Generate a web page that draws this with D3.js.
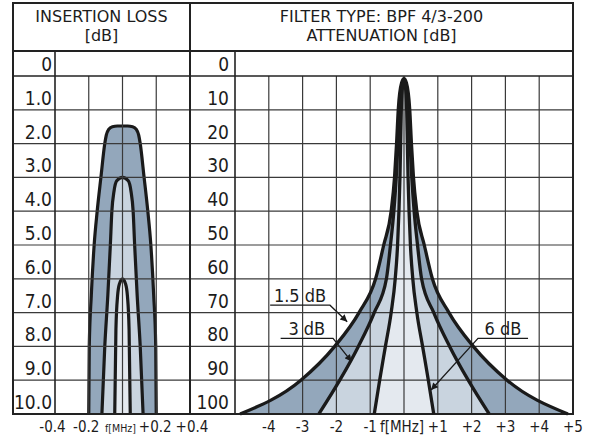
<!DOCTYPE html>
<html>
<head>
<meta charset="utf-8">
<title></title>
<script src="https://d3js.org/d3.v7.min.js"></script>
<style>
  body { margin: 0; background: #fff; }
  svg text { font-family: 'DejaVu Sans Condensed', 'DejaVu Sans', sans-serif; fill: #1c1c1c; }
  svg text.head { font-family: 'DejaVu Sans', sans-serif; }
</style>
</head>
<body>
<script>
// ---- insertion loss panel ----
const lossTicks = [0, 1, 2, 3, 4, 5, 6, 7, 8, 9, 10];
const lossLabels = ["0", "1.0", "2.0", "3.0", "4.0", "5.0", "6.0", "7.0", "8.0", "9.0", "10.0"];
const lossFreqTicks = [-0.4, -0.2, 0, 0.2, 0.4];
const lossFreqLabels = ["-0.4", "-0.2", "f[MHz]", "+0.2", "+0.4"];
// [MHz, dB]
const loss15 = [[-0.2, 10], [-0.197, 8], [-0.185, 6.5], [-0.168, 5], [-0.15, 4], [-0.128, 3], [-0.105, 2],
  [-0.096, 1.75], [-0.082, 1.58], [-0.06, 1.5], [-0.03, 1.48], [0, 1.48], [0.03, 1.48], [0.06, 1.5], [0.082, 1.58],
  [0.096, 1.75], [0.105, 2], [0.128, 3], [0.15, 4], [0.168, 5], [0.185, 6.5], [0.197, 8], [0.2, 10]];
const loss3 = [[-0.122, 10], [-0.105, 8], [-0.087, 6.5], [-0.072, 5], [-0.063, 4], [-0.05, 3.4], [-0.034, 3.1],
  [0, 3.0], [0.034, 3.1], [0.05, 3.4], [0.063, 4], [0.072, 5], [0.087, 6.5], [0.105, 8], [0.122, 10]];
const loss6 = [[-0.046, 10], [-0.039, 7.5], [-0.029, 6.5], [-0.018, 6.15], [0, 6.0],
  [0.018, 6.15], [0.029, 6.5], [0.039, 7.5], [0.046, 10]];

// ---- attenuation panel ----
const attTicks = [0, 10, 20, 30, 40, 50, 60, 70, 80, 90, 100];
const attLabels = ["0", "10", "20", "30", "40", "50", "60", "70", "80", "90", "100"];
const attFreqTicks = [-4, -3, -2, -1, 0, 1, 2, 3, 4, 5];
const attFreqLabels = ["-4", "-3", "-2", "-1", "f[MHz]", "+1", "+2", "+3", "+4", "+5"];
const att15 = [[-4.85, 100], [-3.05, 90], [-2.05, 80], [-1.33, 70], [-0.84, 60], [-0.6, 50], [-0.38, 40],
  [-0.28, 30], [-0.22, 20], [-0.17, 10], [-0.07, 2], [0, 0.8], [0.07, 2], [0.17, 10], [0.22, 20], [0.28, 30],
  [0.38, 40], [0.6, 50], [0.84, 60], [1.33, 70], [2.05, 80], [3.05, 90], [4.85, 100]];
const att3 = [[-2.52, 100], [-1.9, 90], [-1.35, 80], [-0.88, 70], [-0.52, 60], [-0.4, 50], [-0.3, 40],
  [-0.23, 30], [-0.18, 20], [-0.13, 10], [-0.05, 2.5], [0, 1], [0.05, 2.5], [0.13, 10], [0.18, 20], [0.23, 30],
  [0.3, 40], [0.4, 50], [0.52, 60], [0.88, 70], [1.35, 80], [1.9, 90], [2.52, 100]];
const att6 = [[-0.88, 100], [-0.72, 90], [-0.55, 80], [-0.38, 70], [-0.26, 60], [-0.19, 50], [-0.15, 40],
  [-0.12, 30], [-0.1, 20], [-0.08, 10], [-0.04, 3], [0, 1.5], [0.04, 3], [0.08, 10], [0.1, 20], [0.12, 30],
  [0.15, 40], [0.19, 50], [0.26, 60], [0.38, 70], [0.55, 80], [0.72, 90], [0.88, 100]];

const fills = ["#93a7bb", "#c9d4df", "#e4e9ef"];

const W = 600, H = 443;
const fx0 = 13, fx1 = 573, fy0 = 3, yHead = 51, yZero = 76, yBot = 414;
const lCol = 55, mid = 190, rCol = 235;

const svg = d3.select("body").append("svg")
  .attr("width", W).attr("height", H);

const yL = d3.scaleLinear().domain([0, 10]).range([yZero, yBot]);
const xL = d3.scaleLinear().domain([-0.4, 0.4]).range([lCol, mid]);
const yR = d3.scaleLinear().domain([0, 100]).range([yZero, yBot]);
const xR = d3.scaleLinear().domain([-5, 5]).range([rCol, fx1]);

function drawPanel(g, x, y, curves, bottom) {
  const area = d3.area().x(d => x(d[0])).y0(y(bottom)).y1(d => y(d[1])).curve(d3.curveMonotoneX);
  const line = d3.line().x(d => x(d[0])).y(d => y(d[1])).curve(d3.curveMonotoneX);
  g.selectAll("path.fill").data(curves).enter().append("path")
    .attr("class", "fill")
    .attr("d", area)
    .attr("fill", (d, i) => fills[i]);
  return line;
}

// fills first
const gL = svg.append("g");
const lineL = drawPanel(gL, xL, yL, [loss15, loss3, loss6], 10);
const gR = svg.append("g");
const lineR = drawPanel(gR, xR, yR, [att15, att3, att6], 100);

// grid
const grid = svg.append("g").attr("stroke", "#3a3a3a").attr("stroke-width", 1.2);
grid.selectAll("line.hl").data(lossTicks.slice(1, 10)).enter().append("line")
  .attr("x1", fx0).attr("x2", mid).attr("y1", d => yL(d)).attr("y2", d => yL(d));
grid.selectAll("line.hr").data(attTicks.slice(1, 10)).enter().append("line")
  .attr("x1", mid).attr("x2", fx1).attr("y1", d => yR(d)).attr("y2", d => yR(d));
grid.selectAll("line.vl").data(lossFreqTicks.slice(1, 4)).enter().append("line")
  .attr("x1", d => xL(d)).attr("x2", d => xL(d)).attr("y1", yZero).attr("y2", yBot);
grid.selectAll("line.vr").data(attFreqTicks.slice(0, 9)).enter().append("line")
  .attr("x1", d => xR(d)).attr("x2", d => xR(d)).attr("y1", yZero).attr("y2", yBot);

// frame
const frame = svg.append("g").attr("stroke", "#222").attr("stroke-width", 2).attr("fill", "none");
frame.append("rect").attr("x", fx0).attr("y", fy0).attr("width", fx1 - fx0).attr("height", yBot - fy0);
frame.append("line").attr("x1", fx0).attr("x2", fx1).attr("y1", yHead).attr("y2", yHead);
frame.append("line").attr("x1", fx0).attr("x2", fx1).attr("y1", yZero).attr("y2", yZero).attr("stroke-width", 1.4);
frame.append("line").attr("x1", mid).attr("x2", mid).attr("y1", fy0).attr("y2", yBot);
frame.append("line").attr("x1", lCol).attr("x2", lCol).attr("y1", yHead).attr("y2", yBot).attr("stroke-width", 1.6);
frame.append("line").attr("x1", rCol).attr("x2", rCol).attr("y1", yHead).attr("y2", yBot).attr("stroke-width", 1.6);

// curves
gL.selectAll("path.curve").data([loss15, loss3, loss6]).enter().append("path")
  .attr("class", "curve").attr("d", lineL)
  .attr("fill", "none").attr("stroke", "#1a1a1a").attr("stroke-width", 3.2).attr("stroke-linejoin", "round");
svg.append("g").selectAll("path").data([att15, att3, att6]).enter().append("path")
  .attr("d", lineR)
  .attr("fill", "none").attr("stroke", "#1a1a1a").attr("stroke-width", 3.3).attr("stroke-linejoin", "round");

// headers
const head = svg.append("g").attr("text-anchor", "middle").style("font-size", "16px");
head.append("text").attr("class", "head").attr("x", (fx0 + mid) / 2).attr("y", 22).text("INSERTION LOSS");
head.append("text").attr("class", "head").attr("x", (fx0 + mid) / 2).attr("y", 41).text("[dB]");
head.append("text").attr("class", "head").attr("x", (mid + fx1) / 2).attr("y", 22).text("FILTER TYPE: BPF 4/3-200");
head.append("text").attr("class", "head").attr("x", (mid + fx1) / 2).attr("y", 41).text("ATTENUATION [dB]");

// y labels
svg.append("g").attr("text-anchor", "end").style("font-size", "19px")
  .selectAll("text").data(lossTicks).enter().append("text")
  .attr("x", lCol - 3).attr("y", d => yL(d) - 5).text((d, i) => lossLabels[i]);
svg.append("g").attr("text-anchor", "end").style("font-size", "19px")
  .selectAll("text").data(attTicks).enter().append("text")
  .attr("x", rCol - 6).attr("y", d => yR(d) - 5).text((d, i) => attLabels[i]);

// x labels
const lossShift = [-2.5, -2.5, -2, -1, 2];
svg.append("g").attr("text-anchor", "middle")
  .selectAll("text").data(lossFreqTicks).enter().append("text")
  .attr("x", (d, i) => xL(d) + lossShift[i]).attr("y", 432)
  .style("font-size", d => d === 0 ? "10.5px" : "15px")
  .text((d, i) => lossFreqLabels[i]);
svg.append("g").attr("text-anchor", "middle")
  .selectAll("text").data(attFreqTicks).enter().append("text")
  .attr("x", d => xR(d) - (d === 0 ? 2 : 0)).attr("y", 432)
  .style("font-size", "15px")
  .text((d, i) => attFreqLabels[i]);

// callouts (freq, dB in attenuation units)
svg.append("defs").append("marker")
  .attr("id", "arr").attr("viewBox", "0 0 10 10").attr("refX", 10).attr("refY", 5)
  .attr("markerWidth", 9).attr("markerHeight", 7).attr("markerUnits", "userSpaceOnUse")
  .attr("orient", "auto")
  .append("path").attr("d", "M0,0L10,5L0,10z").attr("fill", "#1a1a1a");

const notes = [
  { t: "1.5 dB", a: -3.96, b: -2.19, y: 67.8, tip: [-1.68, 72.7], from: "b" },
  { t: "3 dB", a: -3.65, b: -2.1, y: 77.6, tip: [-1.55, 84.5], from: "b" },
  { t: "6 dB", a: 2.19, b: 3.67, y: 77.6, tip: [0.8, 92.9], from: "a" }
];
const cg = svg.append("g");
notes.forEach(n => {
  const end = n.from === "b" ? [n.a, n.b] : [n.b, n.a];
  const pts = [[xR(end[0]), yR(n.y)], [xR(end[1]), yR(n.y)], [xR(n.tip[0]), yR(n.tip[1])]];
  cg.append("path").attr("d", d3.line()(pts))
    .attr("fill", "none").attr("stroke", "#1a1a1a").attr("stroke-width", 1.3)
    .attr("marker-end", "url(#arr)");
  cg.append("text").attr("x", xR((n.a + n.b) / 2)).attr("y", yR(n.y) - 3)
    .attr("text-anchor", "middle").style("font-size", "18px").text(n.t);
});
</script>
</body>
</html>
